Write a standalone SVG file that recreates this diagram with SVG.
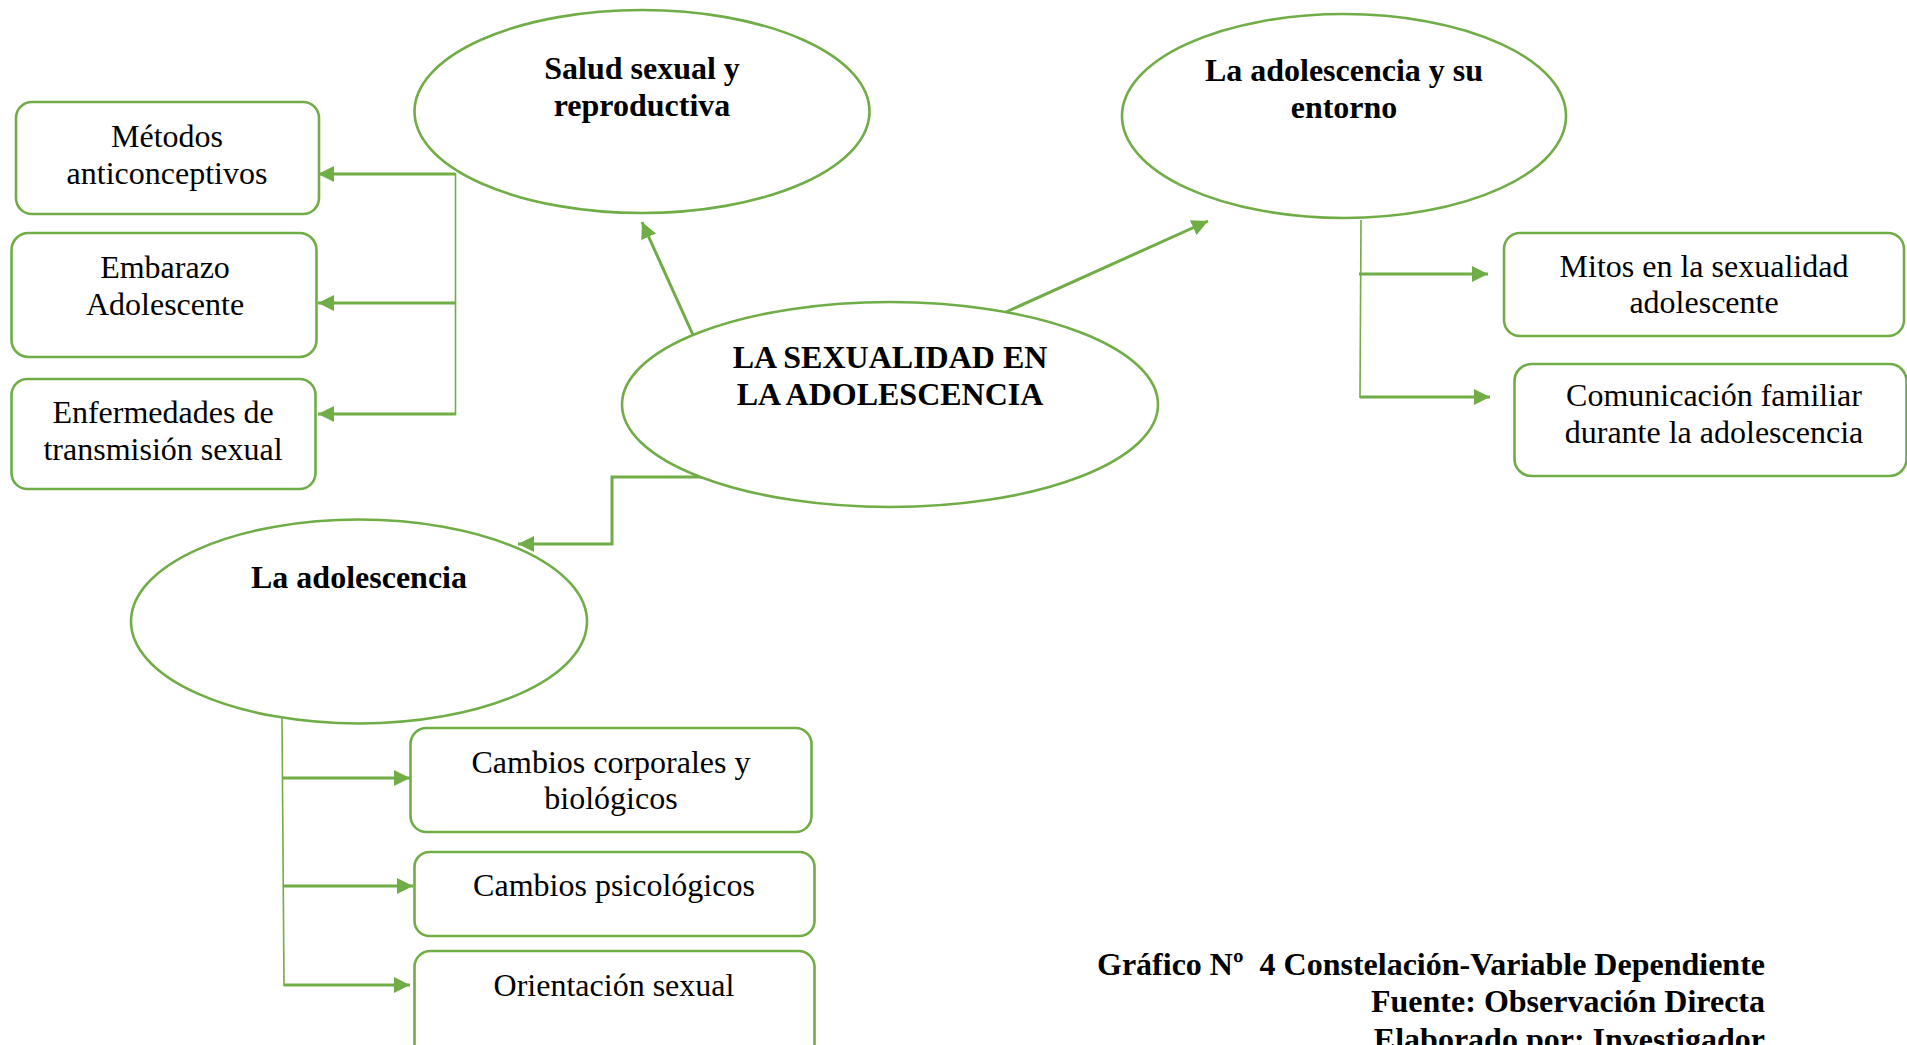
<svg xmlns="http://www.w3.org/2000/svg" width="1907" height="1045" viewBox="0 0 1907 1045">
<defs>
<style>
.ell{fill:#fff;stroke:#70AD47;stroke-width:2.6}
.box{fill:#fff;stroke:#70AD47;stroke-width:2.6}
.ln{fill:none;stroke:#70AD47;stroke-width:3}
.sp{fill:none;stroke:#70AD47;stroke-width:1.6}
.b{font-family:"Liberation Serif","Times New Roman",serif;font-weight:bold;font-size:32px;fill:#000;text-anchor:middle}
.r{font-family:"Liberation Serif","Times New Roman",serif;font-size:32px;fill:#000;text-anchor:middle}
.f{font-family:"Liberation Serif","Times New Roman",serif;font-weight:bold;font-size:32px;fill:#000;text-anchor:end;white-space:pre}
</style>
<marker id="ah" viewBox="0 0 10 10" refX="10" refY="5" markerWidth="5.4" markerHeight="5.4" orient="auto" markerUnits="strokeWidth">
<path d="M0,0 L10,5 L0,10 z" fill="#70AD47"/>
</marker>
</defs>
<rect width="1907" height="1045" fill="#fff"/>
<g id="connectors">
<line class="ln" x1="693" y1="335" x2="642" y2="222" marker-end="url(#ah)"/>
<line class="ln" x1="1006" y1="312" x2="1208" y2="221" marker-end="url(#ah)"/>
<polyline class="ln" points="707,477 612,477 612,544 518,544" marker-end="url(#ah)"/>
<line class="sp" x1="455.5" y1="173" x2="455.5" y2="415"/>
<line class="ln" x1="455" y1="174" x2="318" y2="174" marker-end="url(#ah)"/>
<line class="ln" x1="456" y1="303" x2="318" y2="303" marker-end="url(#ah)"/>
<line class="ln" x1="456" y1="414" x2="318" y2="414" marker-end="url(#ah)"/>
<line class="sp" x1="1361" y1="220" x2="1360" y2="398"/>
<line class="ln" x1="1359" y1="274" x2="1488" y2="274" marker-end="url(#ah)"/>
<line class="ln" x1="1360" y1="397" x2="1490" y2="397" marker-end="url(#ah)"/>
<line class="sp" x1="282" y1="718" x2="284" y2="986"/>
<line class="ln" x1="282" y1="778" x2="410" y2="778" marker-end="url(#ah)"/>
<line class="ln" x1="283" y1="886" x2="413" y2="886" marker-end="url(#ah)"/>
<line class="ln" x1="284" y1="985" x2="410" y2="985" marker-end="url(#ah)"/>
</g>
<g id="n-salud">
<ellipse class="ell" cx="642" cy="111.5" rx="227.5" ry="101.5"/>
<text class="b" x="642" y="79">Salud sexual y</text>
<text class="b" x="642" y="116">reproductiva</text>
</g>
<g id="n-entorno">
<ellipse class="ell" cx="1344" cy="116" rx="222" ry="102"/>
<text class="b" x="1344" y="81">La adolescencia y su</text>
<text class="b" x="1344" y="118">entorno</text>
</g>
<g id="n-central">
<ellipse class="ell" cx="890" cy="404.5" rx="268" ry="102.5"/>
<text class="b" x="890" y="368">LA SEXUALIDAD EN</text>
<text class="b" x="890" y="405">LA ADOLESCENCIA</text>
</g>
<g id="n-adolescencia">
<ellipse class="ell" cx="359" cy="621.5" rx="228" ry="102"/>
<text class="b" x="359" y="588">La adolescencia</text>
</g>
<g id="n-metodos">
<rect class="box" x="16" y="102" width="303" height="112" rx="16"/>
<text class="r" x="167" y="147">Métodos</text>
<text class="r" x="167" y="184">anticonceptivos</text>
</g>
<g id="n-embarazo">
<rect class="box" x="11.5" y="233" width="305" height="124" rx="17"/>
<text class="r" x="165" y="278">Embarazo</text>
<text class="r" x="165" y="315">Adolescente</text>
</g>
<g id="n-enfermedades">
<rect class="box" x="11.5" y="379" width="304" height="110" rx="16"/>
<text class="r" x="163" y="423">Enfermedades de</text>
<text class="r" x="163" y="460">transmisión sexual</text>
</g>
<g id="n-mitos">
<rect class="box" x="1504" y="233" width="400" height="103" rx="16"/>
<text class="r" x="1704" y="277">Mitos en la sexualidad</text>
<text class="r" x="1704" y="313">adolescente</text>
</g>
<g id="n-comunicacion">
<rect class="box" x="1514.5" y="364" width="392" height="112" rx="17"/>
<text class="r" x="1714" y="406">Comunicación familiar</text>
<text class="r" x="1714" y="443">durante la adolescencia</text>
</g>
<g id="n-corporales">
<rect class="box" x="410.5" y="728" width="401" height="104" rx="16"/>
<text class="r" x="611" y="773">Cambios corporales y</text>
<text class="r" x="611" y="809">biológicos</text>
</g>
<g id="n-psicologicos">
<rect class="box" x="414.5" y="852" width="400" height="84" rx="15"/>
<text class="r" x="614" y="896">Cambios psicológicos</text>
</g>
<g id="n-orientacion">
<rect class="box" x="414.5" y="951" width="400" height="110" rx="16"/>
<text class="r" x="614" y="996">Orientación sexual</text>
</g>
<g id="footer">
<text class="f" x="1765" y="975" xml:space="preserve">Gráfico Nº  4 Constelación-Variable Dependiente</text>
<text class="f" x="1765" y="1012">Fuente: Observación Directa</text>
<text class="f" x="1765" y="1050">Elaborado por: Investigador</text>
</g>
</svg>
